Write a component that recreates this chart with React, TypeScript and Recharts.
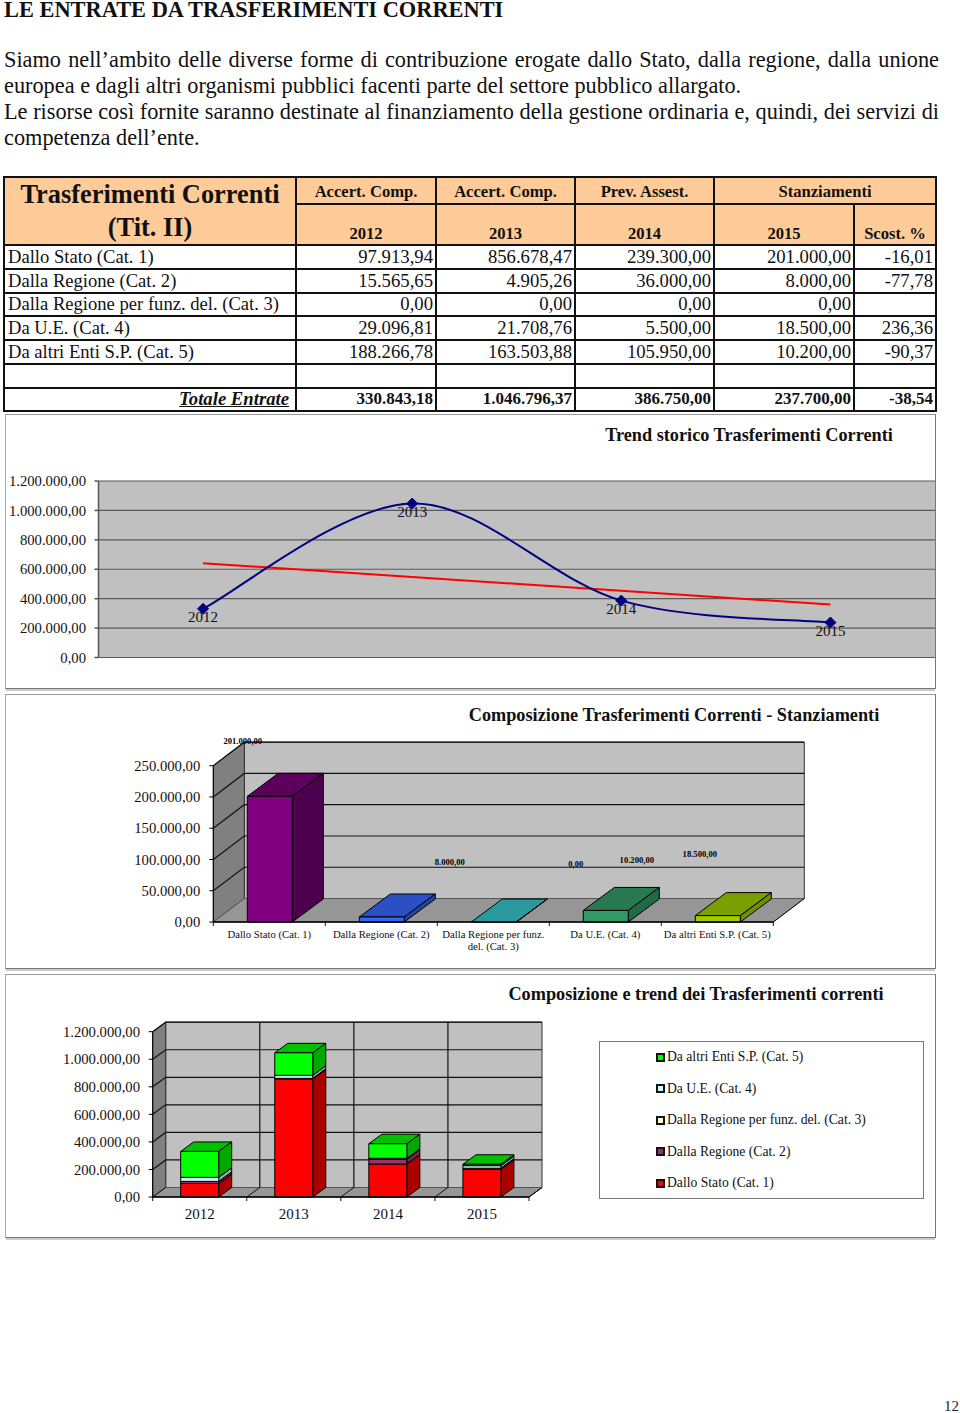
import React from 'react';
import {
  ComposedChart, BarChart, Bar, Line, XAxis, YAxis, CartesianGrid, LabelList, Legend, Customized, usePlotArea,
} from 'recharts';

const FONT = '"Liberation Serif", serif';

const paragraphLines = [
  'Siamo nell’ambito delle diverse forme di contribuzione erogate dallo Stato, dalla regione, dalla unione',
  'europea e dagli altri organismi pubblici facenti parte del settore pubblico allargato.',
  'Le risorse così fornite saranno destinate al finanziamento della gestione ordinaria e, quindi, dei servizi di',
  'competenza dell’ente.',
];
const justifiedLines = [true, false, true, false];

const years = ['2012', '2013', '2014', '2015'];
const categories = [
  'Dallo Stato (Cat. 1)',
  'Dalla Regione (Cat. 2)',
  'Dalla Regione per funz. del. (Cat. 3)',
  'Da U.E. (Cat. 4)',
  'Da altri Enti S.P. (Cat. 5)',
];
// same names, broken the way the middle chart's axis breaks them
const categoryTickLines = [
  ['Dallo Stato (Cat. 1)'],
  ['Dalla Regione (Cat. 2)'],
  ['Dalla Regione per funz.', 'del. (Cat. 3)'],
  ['Da U.E. (Cat. 4)'],
  ['Da altri Enti S.P. (Cat. 5)'],
];
const values2012 = [97913.94, 15565.65, 0, 29096.81, 188266.78];
const values2013 = [856678.47, 4905.26, 0, 21708.76, 163503.88];
const values2014 = [239300, 36000, 0, 5500, 105950];
const values2015 = [201000, 8000, 0, 18500, 10200];
const scost = ['-16,01', '-77,78', '', '236,36', '-90,37'];
const totals = [330843.18, 1046796.37, 386750, 237700];
const totalScost = '-38,54';
const trend = [641444, 547496, 453548, 359600];

const ticksMillion = [0, 200000, 400000, 600000, 800000, 1000000, 1200000];
const ticksStanz = [0, 50000, 100000, 150000, 200000, 250000];

// data labels of the middle chart as printed (not in the same order as the bars)
const stanzLabels = [201000, 8000, 0, 10200, 18500];

const stanzFaces = [
  { front: '#800080', top: '#5c005c', side: '#4d004d' },
  { front: '#3366ff', top: '#2a50c4', side: '#2444a6' },
  { front: '#33a0a8', top: '#2a9aa0', side: '#1f7a80' },
  { front: '#339966', top: '#287a50', side: '#226a46' },
  { front: '#a0cc00', top: '#7a9f00', side: '#6d8e00' },
];
const stackFaces = [
  { front: '#ff0000', top: '#c00000', side: '#aa0000' },
  { front: '#993366', top: '#7a2850', side: '#6d2448' },
  { front: '#ffffcc', top: '#cccca0', side: '#b0b090' },
  { front: '#ccffff', top: '#a0cccc', side: '#90b0b0' },
  { front: '#00ff00', top: '#00c000', side: '#00a800' },
];
const labelOffsets = [
  { dx: -27, dy: -55 }, { dx: 68, dy: -55 }, { dx: 82, dy: -58 }, { dx: 31, dy: -50 }, { dx: -18, dy: -62 },
];

const fmt = (v: number) => {
  const [i, d] = v.toFixed(2).split('.');
  return i.replace(/\B(?=(\d{3})+(?!\d))/g, '.') + ',' + d;
};

const trendData = years.map((year, i) => ({ year, total: totals[i], trend: trend[i] }));
const stanzData = categories.map((name, i) => ({ name, value: values2015[i], label: stanzLabels[i] }));
const allYears = [values2012, values2013, values2014, values2015];
const stackData = years.map((year, y) => {
  const row: any = { year };
  categories.forEach((c, i) => { row[c] = allYears[y][i]; });
  return row;
});

// Excel's "smoothed line": Catmull-Rom through the points
function excelSmooth(context: any) {
  let pts: number[][] = [];
  return {
    areaStart() {},
    areaEnd() {},
    lineStart() { pts = []; },
    point(x: number, y: number) { pts.push([x, y]); },
    lineEnd() {
      if (!pts.length) return;
      context.moveTo(pts[0][0], pts[0][1]);
      for (let i = 0; i < pts.length - 1; i++) {
        const p0 = pts[i - 1] || pts[i], p1 = pts[i], p2 = pts[i + 1], p3 = pts[i + 2] || p2;
        context.bezierCurveTo(
          p1[0] + (p2[0] - p0[0]) / 6, p1[1] + (p2[1] - p0[1]) / 6,
          p2[0] - (p3[0] - p1[0]) / 6, p2[1] - (p3[1] - p1[1]) / 6,
          p2[0], p2[1],
        );
      }
    },
  };
}

const Diamond = ({ cx, cy }: any) => (
  <polygon points={`${cx},${cy - 5.5} ${cx + 5.5},${cy} ${cx},${cy + 5.5} ${cx - 5.5},${cy}`} fill="#000080" stroke="#000080" />
);

// walls and floor of the fake 3D plot, behind the bars
const Room = ({ dx, dy, ticks, max, bands, verticals }: any) => {
  const plot = usePlotArea();
  if (!plot) return null;
  const { x, y, width, height } = plot;
  const bottom = y + height;
  const right = x + width;
  const yOf = (v: number) => y + height * (1 - v / max);
  const bandW = width / bands;
  const edges = Array.from({ length: bands + 1 }, (_, i) => x + i * bandW);
  return (
    <g>
      <polygon points={`${x + dx},${y + dy} ${right + dx},${y + dy} ${right + dx},${bottom + dy} ${x + dx},${bottom + dy}`} fill="#c0c0c0" stroke="#333" />
      <polygon points={`${x},${y} ${x + dx},${y + dy} ${x + dx},${bottom + dy} ${x},${bottom}`} fill="#808080" stroke="#333" />
      <polygon points={`${x},${bottom} ${x + dx},${bottom + dy} ${right + dx},${bottom + dy} ${right},${bottom}`} fill="#969696" stroke="#555" />
      {ticks.filter((t: number) => t > 0).map((t: number) => (
        <polyline key={t} points={`${x},${yOf(t)} ${x + dx},${yOf(t) + dy} ${right + dx},${yOf(t) + dy}`} fill="none" stroke="#111" strokeWidth={1.2} />
      ))}
      {verticals && edges.slice(1, -1).map(e => (
        <line key={e} x1={e + dx} x2={e + dx} y1={y + dy} y2={bottom + dy} stroke="#111" strokeWidth={1.2} />
      ))}
      {edges.map(e => (
        <g key={e}>
          {verticals && <line x1={e} x2={e + dx} y1={bottom} y2={bottom + dy} stroke="#111" />}
          <line x1={e} x2={e} y1={bottom} y2={bottom + 4} stroke="#111" />
        </g>
      ))}
      <line x1={right} x2={right + dx} y1={bottom} y2={bottom + dy} stroke="#111" />
    </g>
  );
};

const box = (dx: number, dy: number, faces: any, skipEmpty: boolean) => ({ x, y, width, height, index }: any) => {
  const f = Array.isArray(faces) ? faces[index] : faces;
  if (skipEmpty && !(height > 0)) return null;
  const r = x + width;
  const b = y + height;
  return (
    <g stroke="#000" strokeWidth={1} strokeLinejoin="round">
      <polygon points={`${x},${y} ${x + dx},${y + dy} ${r + dx},${y + dy} ${r},${y}`} fill={f.top} />
      <polygon points={`${r},${y} ${r + dx},${y + dy} ${r + dx},${b + dy} ${r},${b}`} fill={f.side} />
      <rect x={x} y={y} width={width} height={height} fill={f.front} />
    </g>
  );
};

const axisTick = { fontFamily: FONT, fontSize: 14.7, fill: '#111' };

const CatTick = ({ x, y, index }: any) => (
  <text textAnchor="middle" fontFamily={FONT} fontSize={10.7} fill="#111">
    {categoryTickLines[index].map((l, i) => (
      <tspan key={l} x={x} y={y + 8 + i * 12}>{l}</tspan>
    ))}
  </text>
);

const YearTick = ({ x, y, payload }: any) => (
  <text x={x} y={y + 14} textAnchor="middle" fontFamily={FONT} fontSize={15} fill="#111">{payload.value}</text>
);

const StanzLabel = ({ x, y, width, value, index }: any) => (
  <text
    x={x + width / 2 + labelOffsets[index].dx}
    y={y + labelOffsets[index].dy + 3}
    textAnchor="middle" fontFamily={FONT} fontSize={8.6} fontWeight={700} fill="#000"
  >
    {fmt(value)}
  </text>
);

const LegendBox = ({ payload }: any) => (
  <div style={{ width: 325, height: 158, boxSizing: 'border-box', border: '1px solid #777', background: '#fff', fontFamily: FONT, fontSize: 13.65, color: '#111' }}>
    {[...(payload || [])].reverse().map((p: any) => (
      <div key={p.value} style={{ display: 'flex', alignItems: 'center', height: 31.5, paddingLeft: 56, position: 'relative', top: -0.5 }}>
        <span style={{ width: 5, height: 5, border: '2px solid #111', background: p.color, marginRight: 2, flex: 'none' }} />
        {p.value}
      </div>
    ))}
  </div>
);

const Frame = ({ top, height }: any) => (
  <div style={{
    position: 'absolute', left: 5, top, width: 931, height, boxSizing: 'border-box',
    borderTop: '1px solid #999', borderLeft: '1px solid #aaa', borderRight: '1px solid #777', borderBottom: '1px solid #777',
    boxShadow: '0 3px 0 -1px #ccc',
  }} />
);

const ChartTitle = ({ cx, y, children }: any) => (
  <div style={{ position: 'absolute', left: cx - 300, top: y - 11, width: 600, height: 22, lineHeight: '22px', textAlign: 'center', fontFamily: FONT, fontWeight: 700, fontSize: 18.25, color: '#111' }}>
    {children}
  </div>
);

const bd = '2px solid #111';
const headCell: React.CSSProperties = { background: '#ffcc99', border: bd, fontWeight: 700, fontSize: 16.6, textAlign: 'center', padding: 0 };
const numCell: React.CSSProperties = { border: bd, textAlign: 'right', padding: '0 2px 0 0', whiteSpace: 'nowrap' };
const ROW_H = 23.75;

const SummaryTable = () => (
  <table style={{ position: 'absolute', left: 3, top: 176, width: 932, tableLayout: 'fixed', borderCollapse: 'collapse', fontFamily: FONT, fontSize: 18.7, lineHeight: '18px', color: '#111' }}>
    <colgroup>
      <col style={{ width: 292 }} /><col style={{ width: 140 }} /><col style={{ width: 139 }} />
      <col style={{ width: 139 }} /><col style={{ width: 140 }} /><col style={{ width: 82 }} />
    </colgroup>
    <tbody>
      <tr style={{ height: 27 }}>
        <td rowSpan={2} style={{ ...headCell, fontSize: 26.4, lineHeight: '33px', verticalAlign: 'top' }}>Trasferimenti Correnti<br />(Tit. II)</td>
        <td style={{ ...headCell, paddingTop: 3 }}>Accert. Comp.</td>
        <td style={{ ...headCell, paddingTop: 3 }}>Accert. Comp.</td>
        <td style={{ ...headCell, paddingTop: 3 }}>Prev. Assest.</td>
        <td colSpan={2} style={{ ...headCell, paddingTop: 3 }}>Stanziamenti</td>
      </tr>
      <tr style={{ height: 40 }}>
        {[...years, 'Scost. %'].map(h => (
          <td key={h} style={{ ...headCell, verticalAlign: 'bottom', paddingBottom: 1 }}>{h}</td>
        ))}
      </tr>
      {categories.map((c, i) => (
        <tr key={c} style={{ height: ROW_H }}>
          <td style={{ ...numCell, textAlign: 'left', fontSize: 18.6, padding: '0 0 0 3px' }}>{c}</td>
          <td style={numCell}>{fmt(values2012[i])}</td>
          <td style={numCell}>{fmt(values2013[i])}</td>
          <td style={numCell}>{fmt(values2014[i])}</td>
          <td style={numCell}>{fmt(values2015[i])}</td>
          <td style={numCell}>{scost[i]}</td>
        </tr>
      ))}
      <tr style={{ height: ROW_H }}>
        {[0, 1, 2, 3, 4, 5].map(i => <td key={i} style={numCell} />)}
      </tr>
      <tr style={{ height: ROW_H, fontWeight: 700, fontSize: 17 }}>
        <td style={{ ...numCell, paddingRight: 6, fontStyle: 'italic', textDecoration: 'underline', fontSize: 18.7 }}>Totale Entrate</td>
        {totals.map(t => <td key={t} style={numCell}>{fmt(t)}</td>)}
        <td style={numCell}>{totalScost}</td>
      </tr>
    </tbody>
  </table>
);

export default function App() {
  return (
    <div style={{ position: 'absolute', left: 0, top: 0, width: 960, height: 1413, background: '#fff', overflow: 'hidden' }}>
      <div style={{ position: 'absolute', left: 4, top: 0, fontFamily: FONT, fontWeight: 700, fontSize: 22.4, lineHeight: '19px', color: '#111', whiteSpace: 'nowrap' }}>
        LE ENTRATE DA TRASFERIMENTI CORRENTI
      </div>
      <div style={{ position: 'absolute', left: 4, top: 47, width: 935, fontFamily: FONT, fontSize: 22.3, lineHeight: '26px', color: '#111' }}>
        {paragraphLines.map((l, i) => (
          <div key={i} style={{ textAlign: 'justify', textAlignLast: justifiedLines[i] ? 'justify' : 'left', whiteSpace: 'nowrap' }}>{l}</div>
        ))}
      </div>

      <SummaryTable />

      <Frame top={414} height={275} />
      <Frame top={694} height={275} />
      <Frame top={974} height={264} />

      <ChartTitle cx={749} y={435}>Trend storico Trasferimenti Correnti</ChartTitle>
      <div style={{ position: 'absolute', left: 0, top: 414 }}>
        <ComposedChart width={960} height={275} data={trendData} margin={{ top: 67, right: 25, bottom: 31.5, left: 0 }}>
          <CartesianGrid fill="#c0c0c0" stroke="#5a5a5a" strokeWidth={1.2} vertical={false} />
          <XAxis dataKey="year" hide scale="band" />
          <YAxis
            width={98.5} domain={[0, 1200000]} ticks={ticksMillion} interval={0} tickFormatter={fmt}
            tick={axisTick} tickSize={4} tickMargin={8.5} stroke="#555" strokeWidth={1.5}
          />
          <Line dataKey="trend" stroke="#ff0000" strokeWidth={2} dot={false} isAnimationActive={false} />
          <Line dataKey="total" type={excelSmooth as any} stroke="#000080" strokeWidth={2} dot={<Diamond />} isAnimationActive={false}>
            <LabelList dataKey="year" position="bottom" offset={3} style={{ fontFamily: FONT, fontSize: 15, fill: '#111' }} />
          </Line>
        </ComposedChart>
      </div>

      <ChartTitle cx={674} y={715}>Composizione Trasferimenti Correnti - Stanziamenti</ChartTitle>
      <div style={{ position: 'absolute', left: 0, top: 694 }}>
        <BarChart width={960} height={275} data={stanzData} barSize={45} margin={{ top: 71.7, right: 186.7, bottom: 0, left: 0 }}>
          <Customized component={<Room dx={31} dy={-23.5} ticks={ticksStanz} max={250000} bands={5} />} />
          <XAxis dataKey="name" height={47} interval={0} tickLine={false} stroke="#000" strokeWidth={1.5} tick={<CatTick />} />
          <YAxis
            width={213.3} domain={[0, 250000]} ticks={ticksStanz} interval={0} tickFormatter={fmt}
            tick={axisTick} tickSize={4} tickMargin={9} stroke="#000"
          />
          <Bar dataKey="value" isAnimationActive={false} shape={box(31, -23, stanzFaces, false) as any}>
            <LabelList dataKey="label" content={<StanzLabel />} />
          </Bar>
        </BarChart>
      </div>

      <ChartTitle cx={696} y={994}>Composizione e trend dei Trasferimenti correnti</ChartTitle>
      <div style={{ position: 'absolute', left: 0, top: 974 }}>
        <BarChart width={960} height={264} data={stackData} barSize={38} margin={{ top: 57.7, right: 106, bottom: 0, left: 0 }}>
          <Customized component={<Room dx={13} dy={-9.5} ticks={ticksMillion} max={1200000} bands={4} verticals />} />
          <XAxis dataKey="year" height={41} interval={0} tickLine={false} stroke="#000" strokeWidth={1.5} tick={<YearTick />} />
          <YAxis
            width={152.7} domain={[0, 1200000]} ticks={ticksMillion} interval={0} tickFormatter={fmt}
            tick={axisTick} tickSize={4} tickMargin={8.7} stroke="#000"
          />
          <Legend
            layout="vertical" align="right" verticalAlign="top" width={325} itemSorter={null as any}
            wrapperStyle={{ left: 599, top: 67, right: 'auto' }} content={<LegendBox />}
          />
          {categories.map((c, i) => (
            <Bar key={c} dataKey={c} name={c} stackId="a" fill={stackFaces[i].front} isAnimationActive={false} shape={box(13, -9.5, stackFaces[i], true) as any} />
          ))}
        </BarChart>
      </div>

      <div style={{ position: 'absolute', left: 944, top: 1399, fontFamily: FONT, fontSize: 15, lineHeight: '14px', color: '#222' }}>12</div>
    </div>
  );
}
